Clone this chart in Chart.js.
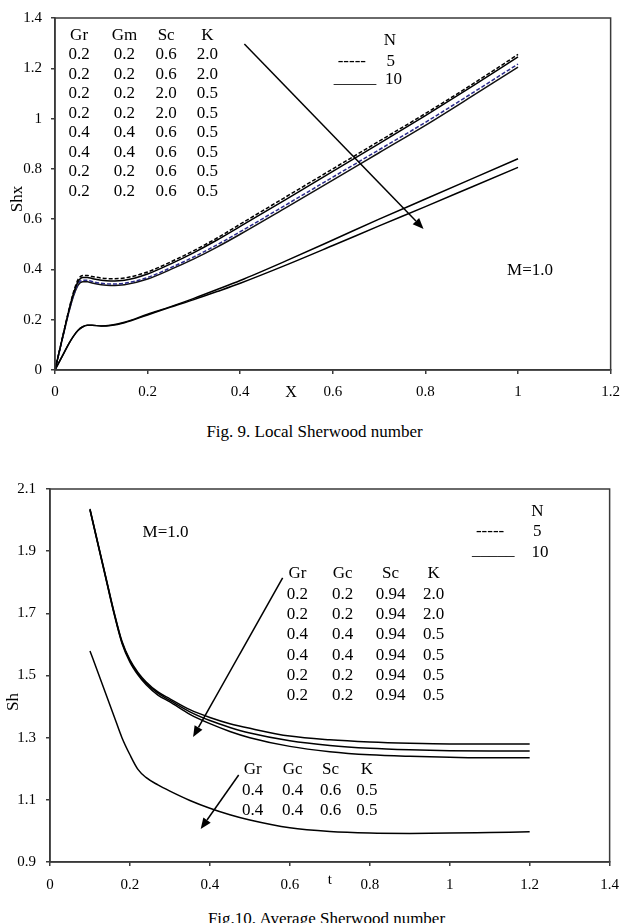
<!DOCTYPE html>
<html><head><meta charset="utf-8">
<script src="https://cdn.jsdelivr.net/npm/chart.js@4/dist/chart.umd.min.js"></script>
<style>
html,body{margin:0;padding:0;background:#fff;}
body{width:629px;height:923px;position:relative;overflow:hidden;font-family:"Liberation Serif","Times New Roman",serif;}
#w1{position:absolute;left:0;top:0;width:629px;height:410px;}
#w2{position:absolute;left:0;top:460px;width:629px;height:440px;}
.cap{position:absolute;width:629px;text-align:center;font-size:17px;color:#000;line-height:20px;}
</style></head><body>
<div id="w1"><canvas id="c1"></canvas></div>
<div class="cap" style="top:422px;left:0">Fig. 9. Local Sherwood number</div>
<div id="w2"><canvas id="c2"></canvas></div>
<div class="cap" style="top:909px;left:12px">Fig.10. Average Sherwood number</div>
<script>
// ---------- Fig. 9 data ----------
const xTicks1 = [0, 0.2, 0.4, 0.6, 0.8, 1, 1.2];
const yTicks1 = [0, 0.2, 0.4, 0.6, 0.8, 1, 1.2, 1.4];
const X1 = [0,0.01,0.02,0.03,0.04,0.05,0.06,0.07,0.08,0.1,0.12,0.15,0.2,0.25,0.3,0.35,0.4,0.5,0.6,0.7,0.8,0.9,1.0];
const shxK2N5   = [0,0.08,0.16,0.24,0.31,0.36,0.376,0.376,0.372,0.366,0.363,0.366,0.39,0.43,0.475,0.525,0.58,0.69,0.80,0.91,1.02,1.135,1.255];
const shxK2N10  = [0,0.08,0.16,0.237,0.305,0.352,0.368,0.368,0.364,0.357,0.354,0.357,0.382,0.422,0.467,0.517,0.571,0.68,0.79,0.90,1.012,1.127,1.245];
const shxGr4N5  = [0,0.078,0.157,0.233,0.298,0.343,0.357,0.357,0.352,0.345,0.342,0.345,0.368,0.407,0.45,0.498,0.55,0.658,0.767,0.876,0.985,1.1,1.217];
const shxGr4N10 = [0,0.078,0.155,0.23,0.294,0.338,0.351,0.351,0.346,0.339,0.336,0.339,0.362,0.4,0.442,0.489,0.54,0.647,0.755,0.864,0.973,1.088,1.205];
const shxSc2N5  = [0,0.035,0.07,0.105,0.135,0.158,0.172,0.178,0.178,0.175,0.178,0.19,0.222,0.252,0.285,0.32,0.356,0.435,0.517,0.6,0.68,0.76,0.84];
const shxSc2N10 = [0,0.035,0.07,0.105,0.135,0.158,0.172,0.178,0.178,0.175,0.177,0.188,0.219,0.25,0.28,0.312,0.345,0.418,0.495,0.573,0.65,0.728,0.806];
const tableHead1 = ['Gr','Gm','Sc','K'];
const tableRows1 = [
  ['0.2','0.2','0.6','2.0'],['0.2','0.2','0.6','2.0'],
  ['0.2','0.2','2.0','0.5'],['0.2','0.2','2.0','0.5'],
  ['0.4','0.4','0.6','0.5'],['0.4','0.4','0.6','0.5'],
  ['0.2','0.2','0.6','0.5'],['0.2','0.2','0.6','0.5']];

// ---------- Fig. 10 data ----------
const xTicks2 = [0, 0.2, 0.4, 0.6, 0.8, 1, 1.2, 1.4];
const yTicks2 = [0.9, 1.1, 1.3, 1.5, 1.7, 1.9, 2.1];
const T2 = [0.1,0.12,0.14,0.16,0.18,0.2,0.22,0.24,0.27,0.3,0.35,0.4,0.45,0.5,0.6,0.7,0.8,0.9,1.0,1.1,1.2];
const shK2   = [2.036,1.925,1.815,1.705,1.61,1.55,1.51,1.48,1.447,1.425,1.39,1.365,1.345,1.33,1.305,1.293,1.286,1.282,1.28,1.28,1.28];
const shGr4  = [2.034,1.923,1.813,1.703,1.607,1.547,1.506,1.476,1.443,1.42,1.383,1.355,1.333,1.315,1.29,1.275,1.266,1.261,1.258,1.257,1.257];
const shBase = [2.032,1.921,1.81,1.7,1.604,1.543,1.502,1.471,1.437,1.415,1.375,1.345,1.32,1.30,1.272,1.255,1.245,1.24,1.237,1.235,1.235];
const shSc06 = [1.579,1.51,1.44,1.37,1.30,1.245,1.198,1.172,1.148,1.128,1.098,1.073,1.052,1.035,1.01,0.998,0.993,0.992,0.993,0.995,0.997];
const tableHead2a = ['Gr','Gc','Sc','K'];
const tableRows2a = [
  ['0.2','0.2','0.94','2.0'],['0.2','0.2','0.94','2.0'],
  ['0.4','0.4','0.94','0.5'],['0.4','0.4','0.94','0.5'],
  ['0.2','0.2','0.94','0.5'],['0.2','0.2','0.94','0.5']];
const tableHead2b = ['Gr','Gc','Sc','K'];
const tableRows2b = [['0.4','0.4','0.6','0.5'],['0.4','0.4','0.6','0.5']];
const legendN = ['N','-----','5','_____','10'];

// ---------- helpers ----------
const FONT = '"Liberation Serif", "Times New Roman", serif';
const AX = '#3a3a3a';
Chart.defaults.font.family = FONT;
Chart.defaults.color = '#000';

function pts(xs, ys){ return xs.map((x,i)=>({x:x, y:ys[i]})); }
function ds(label, xs, ys, color, dash){
  return {label, data: pts(xs, ys), borderColor: color, borderWidth: 1.5, borderDash: dash || [],
          pointRadius: 0, fill: false, cubicInterpolationMode: 'monotone'};
}
function P(c, x, y){ return [c.scales.x.getPixelForValue(x), c.scales.y.getPixelForValue(y)]; }
function txt(ctx, s, x, y, size, align){
  ctx.font = size + 'px ' + FONT; ctx.fillStyle = '#000';
  ctx.textAlign = align || 'center'; ctx.textBaseline = 'middle';
  ctx.fillText(s, x, y);
}
function arrow(ctx, x1, y1, x2, y2){
  ctx.save(); ctx.strokeStyle = '#000'; ctx.fillStyle = '#000'; ctx.lineWidth = 1.5;
  const a = Math.atan2(y2-y1, x2-x1), L = 11, W = 4.5;
  const bx = x2 - L*Math.cos(a), by = y2 - L*Math.sin(a);
  ctx.beginPath(); ctx.moveTo(x1,y1); ctx.lineTo(bx,by); ctx.stroke();
  ctx.beginPath(); ctx.moveTo(x2,y2);
  ctx.lineTo(bx + W*Math.sin(a), by - W*Math.cos(a));
  ctx.lineTo(bx - W*Math.sin(a), by + W*Math.cos(a));
  ctx.closePath(); ctx.fill(); ctx.restore();
}
function box(c){
  const a = c.chartArea, ctx = c.ctx;
  ctx.save(); ctx.strokeStyle = AX; ctx.lineWidth = 1.5;
  ctx.strokeRect(a.left, a.top, a.right-a.left, a.bottom-a.top); ctx.restore();
}
function scaleOpts(ticksArr, min, max, fitKey, fitVal, pad){
  return {
    type: 'linear', min, max,
    afterBuildTicks: s => { s.ticks = ticksArr.map(v => ({value: v})); },
    afterFit: s => { s[fitKey] = fitVal; },
    grid: {display: true, drawOnChartArea: false, drawTicks: true, tickLength: 4, color: AX, lineWidth: 1.5},
    border: {display: true, color: AX, width: 1.5},
    ticks: {color: '#000', font: {size: 15, family: FONT}, padding: pad, maxRotation: 0, autoSkip: false,
            callback: v => String(v)}
  };
}

// ---------- Fig. 9 ----------
const plug1 = {id: 'ann1', afterDraw(c){
  const ctx = c.ctx; box(c);
  const colX = [0.052, 0.15, 0.24, 0.329];
  tableHead1.forEach((h,j)=>{ const p = P(c, colX[j], 1.329); txt(ctx, h, p[0], p[1], 17); });
  tableRows1.forEach((r,i)=> r.forEach((v,j)=>{ const p = P(c, colX[j], 1.2535 - i*0.0774); txt(ctx, v, p[0], p[1], 17); }));
  let p;
  p = P(c, 0.723, 1.309); txt(ctx, legendN[0], p[0], p[1], 17);
  p = P(c, 0.641, 1.226); txt(ctx, legendN[1], p[0], p[1], 17);
  p = P(c, 0.725, 1.226); txt(ctx, legendN[2], p[0], p[1], 17);
  p = P(c, 0.648, 1.158); txt(ctx, legendN[3], p[0], p[1], 17);
  p = P(c, 0.731, 1.155); txt(ctx, legendN[4], p[0], p[1], 17);
  p = P(c, 1.026, 0.395); txt(ctx, 'M=1.0', p[0], p[1], 17);
  const a1 = P(c, 0.409, 1.297), a2 = P(c, 0.796, 0.561); arrow(ctx, a1[0], a1[1], a2[0], a2[1]);
  p = P(c, 0.51, -0.091); txt(ctx, 'X', p[0], p[1], 16);
  p = P(c, 0, 0.68);
  ctx.save(); ctx.translate(18, p[1]); ctx.rotate(-Math.PI/2); txt(ctx, 'Shx', 0, 0, 17); ctx.restore();
}};
new Chart(document.getElementById('c1'), {
  type: 'line',
  data: {datasets: [
    ds('K=2.0, N=5', X1, shxK2N5, '#000', [4,2]),
    ds('K=2.0, N=10', X1, shxK2N10, '#000'),
    ds('Gr=0.4, N=5', X1, shxGr4N5, '#2a2a8a', [4,2]),
    ds('Gr=0.4, N=10', X1, shxGr4N10, '#111'),
    ds('Sc=2.0, N=5', X1, shxSc2N5, '#000'),
    ds('Sc=2.0, N=10', X1, shxSc2N10, '#000')
  ]},
  options: {
    responsive: true, maintainAspectRatio: false, animation: false,
    layout: {padding: {top: 16, right: 16, left: 0, bottom: 0}},
    plugins: {legend: {display: false}, tooltip: {enabled: false}},
    scales: {x: scaleOpts(xTicks1, 0, 1.2, 'height', 40, 9), y: scaleOpts(yTicks1, 0, 1.4, 'width', 55, 9)}
  },
  plugins: [plug1]
});

// ---------- Fig. 10 ----------
const plug2 = {id: 'ann2', afterDraw(c){
  const ctx = c.ctx; box(c);
  let p;
  p = P(c, 0.289, 1.959); txt(ctx, 'M=1.0', p[0], p[1], 17);
  p = P(c, 1.219, 2.026); txt(ctx, legendN[0], p[0], p[1], 17);
  p = P(c, 1.101, 1.962); txt(ctx, legendN[1], p[0], p[1], 17);
  p = P(c, 1.219, 1.962); txt(ctx, legendN[2], p[0], p[1], 17);
  p = P(c, 1.109, 1.902); txt(ctx, legendN[3], p[0], p[1], 17);
  p = P(c, 1.226, 1.897); txt(ctx, legendN[4], p[0], p[1], 17);
  const colA = [0.619, 0.732, 0.852, 0.96];
  tableHead2a.forEach((h,j)=>{ const q = P(c, colA[j], 1.827); txt(ctx, h, q[0], q[1], 17); });
  tableRows2a.forEach((r,i)=> r.forEach((v,j)=>{ const q = P(c, colA[j], 1.762 - i*0.0656); txt(ctx, v, q[0], q[1], 17); }));
  const colB = [0.507, 0.607, 0.702, 0.793];
  tableHead2b.forEach((h,j)=>{ const q = P(c, colB[j], 1.199); txt(ctx, h, q[0], q[1], 17); });
  tableRows2b.forEach((r,i)=> r.forEach((v,j)=>{ const q = P(c, colB[j], 1.131 - i*0.0645); txt(ctx, v, q[0], q[1], 17); }));
  let a1 = P(c, 0.582, 1.814), a2 = P(c, 0.358, 1.302); arrow(ctx, a1[0], a1[1], a2[0], a2[1]);
  a1 = P(c, 0.472, 1.180); a2 = P(c, 0.377, 1.006); arrow(ctx, a1[0], a1[1], a2[0], a2[1]);
  p = P(c, 0.70, 0.842); txt(ctx, 't', p[0], p[1], 15);
  p = P(c, 0, 1.415);
  ctx.save(); ctx.translate(14, p[1]); ctx.rotate(-Math.PI/2); txt(ctx, 'Sh', 0, 0, 17); ctx.restore();
}};
new Chart(document.getElementById('c2'), {
  type: 'line',
  data: {datasets: [
    ds('Gr=0.2, K=2.0', T2, shK2, '#000'),
    ds('Gr=0.4, K=0.5', T2, shGr4, '#000'),
    ds('Gr=0.2, K=0.5', T2, shBase, '#000'),
    ds('Sc=0.6', T2, shSc06, '#000')
  ]},
  options: {
    responsive: true, maintainAspectRatio: false, animation: false,
    layout: {padding: {top: 29, right: 7, left: 0, bottom: 0}},
    plugins: {legend: {display: false}, tooltip: {enabled: false}},
    scales: {x: scaleOpts(xTicks2, 0, 1.4, 'height', 38, 10), y: scaleOpts(yTicks2, 0.9, 2.1, 'width', 50, 10)}
  },
  plugins: [plug2]
});
</script>
</body></html>
